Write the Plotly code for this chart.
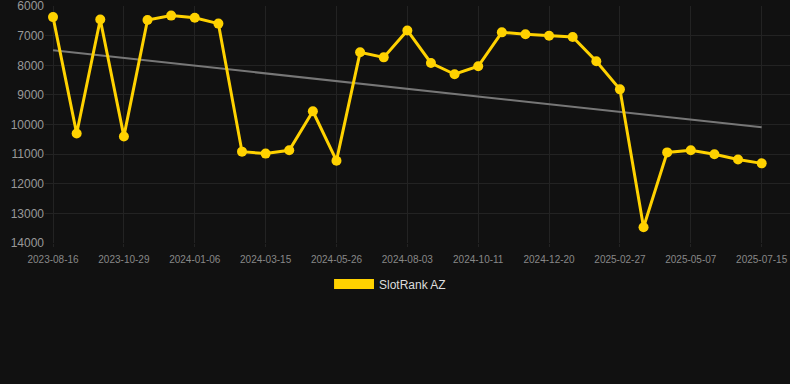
import numpy as np
import plotly.graph_objects as go

# Data
series_name = "SlotRank AZ"
rank_values = [6370, 10300, 6450, 10400, 6470, 6320, 6390, 6590, 10915, 10980,
               10870, 9550, 11220, 7560, 7730, 6820, 7920, 8300, 8030, 6885,
               6950, 7000, 7040, 7860, 8810, 13470, 10940, 10870, 11000, 11180,
               11310]
tick_labels = ["2023-08-16", "2023-10-29", "2024-01-06", "2024-03-15", "2024-05-26",
               "2024-08-03", "2024-10-11", "2024-12-20", "2025-02-27", "2025-05-07",
               "2025-07-15"]
y_ticks = [6000, 7000, 8000, 9000, 10000, 11000, 12000, 13000, 14000]

x_idx = np.arange(len(rank_values))
tick_pos = list(range(0, len(rank_values), 3))

# Linear trend line
slope, intercept = np.polyfit(x_idx, rank_values, 1)
trend = slope * x_idx + intercept

LINE = "#FFD200"
BG = "#111111"
GRID = "#232323"

fig = go.Figure()
fig.add_trace(go.Scatter(
    x=x_idx, y=trend, mode="lines",
    line=dict(color="#777777", width=2), showlegend=False, hoverinfo="skip"))
fig.add_trace(go.Scatter(
    x=x_idx, y=rank_values, mode="lines+markers", name=series_name,
    line=dict(color=LINE, width=3),
    marker=dict(color=LINE, size=10), showlegend=False))

# Legend drawn as a swatch + label below the plot
fig.add_shape(type="rect", xref="paper", yref="paper",
              x0=0.388, x1=0.4416, y0=-0.1945, y1=-0.152,
              fillcolor=LINE, line=dict(width=0))
fig.add_annotation(xref="paper", yref="paper", x=0.4463, y=-0.1755,
                   xanchor="left", yanchor="middle", showarrow=False,
                   text=series_name, font=dict(size=12, color="#dddddd"))

fig.update_layout(
    width=790, height=384,
    margin=dict(l=45, r=0, t=6, b=141),
    paper_bgcolor=BG, plot_bgcolor=BG,
    font=dict(family="Liberation Sans, Arial, sans-serif", color="#888888"),
    xaxis=dict(range=[-0.34, 31.2], tickvals=tick_pos, ticktext=tick_labels,
               showgrid=True, gridcolor=GRID, gridwidth=1, zeroline=False,
               showline=False, tickfont=dict(size=10, color="#888888"),
               ticks="outside", ticklen=3, tickcolor=GRID,
               ticklabelstandoff=4, ticklabeloverflow="allow"),
    yaxis=dict(range=[14000, 5995], tickvals=y_ticks, tickformat="d",
               showgrid=True, gridcolor=GRID, gridwidth=1, zeroline=False,
               showline=False, tickfont=dict(size=12, color="#999999"),
               ticklabelstandoff=0, ticklabeloverflow="allow"),
)

fig.write_html("out.html",
               config={"displayModeBar": False},
               post_script="document.body.style.margin='0';document.body.style.background='#111111';")
